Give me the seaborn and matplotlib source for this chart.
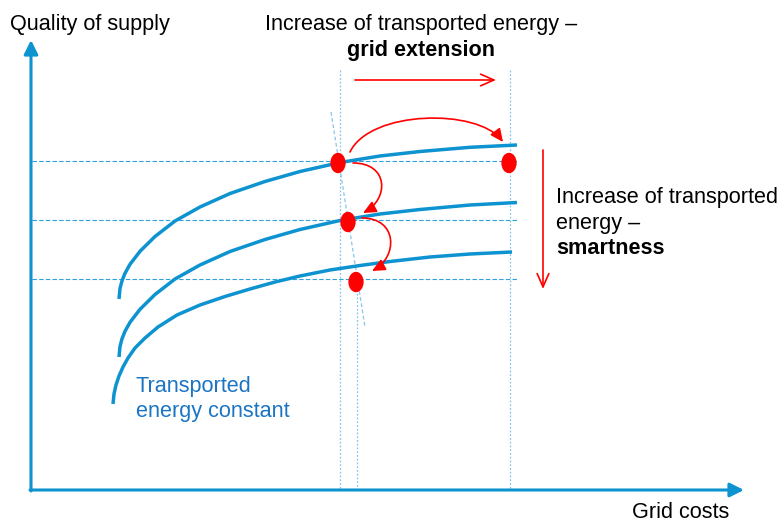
import numpy as np
import pandas as pd
import matplotlib
matplotlib.use("Agg")
import matplotlib.pyplot as plt
import seaborn as sns
from matplotlib.patches import FancyArrowPatch
from matplotlib.path import Path

sns.set_theme(style="white")
plt.rcParams['font.family'] = ['Liberation Sans', 'DejaVu Sans']
plt.rcParams['text.color'] = 'black'

# ---- data (pixel-like units, y grows downwards) ----
curve_top_x = [119, 120, 122, 125, 130, 140, 155, 175, 200, 230, 265, 300, 340, 380, 420, 470, 517]
curve_top_y = [299, 288.5, 280.8, 273.3, 264.3, 251.3, 236.5, 221, 207, 193.5, 181.5, 171.5, 162.5, 156, 151.5, 147.3, 145]
curve_mid_x = [119, 120, 122, 125, 130, 140, 155, 175, 200, 230, 265, 300, 340, 380, 420, 470, 517]
curve_mid_y = [357, 346.5, 338.8, 331.3, 322.3, 309.3, 294.5, 279, 265, 251.5, 239.5, 229.5, 220.5, 214, 209.5, 205, 202.5]
curve_low_x = [113, 114, 116, 119, 123, 128, 135, 145, 158, 177, 200, 225, 250, 275, 300, 330, 360, 390, 430, 470, 512]
curve_low_y = [404, 394, 385, 376, 367, 358, 348, 338, 327, 315, 305, 296.5, 289, 282, 276, 270, 265.5, 261.5, 257, 254, 252]

dot_x = [338, 348, 356, 509]
dot_y = [163, 222, 282, 163]

level_y = [161, 220, 279]          # dashed guide lines
guide_x = [340, 510]               # vertical dotted guides from the top
guide_low_x = 357                  # vertical dotted guide from lowest dot
slant_x = [331, 365]
slant_y = [112, 327]

# red arrows: start and end points
jump_right = [(350, 152), (503, 142)]
step_down_1 = [(353, 163), (363, 213)]
step_down_2 = [(362, 218), (372, 271)]
extension_arrow = [(355, 80), (496, 80)]
smart_arrow = [(543, 150), (543, 289)]

# ---- figure ----
fig = plt.figure(figsize=(7.82, 5.23), dpi=100)
ax = fig.add_axes([0, 0, 1, 1])

blue = "#0E93D1"
guide_blue = "#2AA2DE"
light_blue = "#88C5E9"
red = "#FF0000"

# guide lines
for y in level_y:
    ax.plot([32, 517], [y, y], color=guide_blue, lw=0.8, dashes=(4, 2), zorder=1)
for x in guide_x:
    ax.plot([x, x], [70, 490], color=light_blue, lw=0.9, dashes=(1.5, 1.5), zorder=1)
ax.plot([guide_low_x, guide_low_x], [282, 490], color=light_blue, lw=0.9, dashes=(1.5, 1.5), zorder=1)
ax.plot(slant_x, slant_y, color=light_blue, lw=0.9, dashes=(3, 2), zorder=1)

# curves
curves = pd.concat([
    pd.DataFrame({"x": curve_top_x, "y": curve_top_y, "c": "top"}),
    pd.DataFrame({"x": curve_mid_x, "y": curve_mid_y, "c": "mid"}),
    pd.DataFrame({"x": curve_low_x, "y": curve_low_y, "c": "low"}),
])
sns.lineplot(data=curves, x="x", y="y", units="c", estimator=None, sort=False,
             color=blue, lw=2.5, ax=ax, zorder=3, solid_capstyle="butt")

ax.set_xlim(0, 782)
ax.set_ylim(523, 0)
ax.axis("off")

# axes arrows
head = "-|>,head_length=0.7,head_width=0.35"
ax.annotate("", xy=(31, 40), xytext=(31, 491),
            arrowprops=dict(arrowstyle=head, color=blue, lw=2.2, shrinkA=0, shrinkB=0))
ax.annotate("", xy=(744, 490), xytext=(30, 490),
            arrowprops=dict(arrowstyle=head, color=blue, lw=2.2, shrinkA=0, shrinkB=0))

# red dots (vertical ellipses)
circ = Path.unit_circle()
ell = Path(circ.vertices * np.array([0.75, 1.0]), circ.codes)
sns.scatterplot(x=dot_x, y=dot_y, marker=ell, s=215, color=red, edgecolor="none", ax=ax, zorder=5)

# red arrows
def straight(p, style):
    ax.add_patch(FancyArrowPatch(p[0], p[1], arrowstyle=style, color=red, lw=1.2,
                                 mutation_scale=12, shrinkA=0, shrinkB=0, zorder=6))

def curved(p, off, style):
    (x0, y0), (x1, y1) = p
    verts = [(x0, y0), (x0 + off[0], y0 + off[1]), (x1 + off[2], y1 + off[3]), (x1, y1)]
    path = Path(verts, [Path.MOVETO, Path.CURVE4, Path.CURVE4, Path.CURVE4])
    ax.add_patch(FancyArrowPatch(path=path, arrowstyle=style, color=red, lw=1.2,
                                 mutation_scale=12, zorder=6))

straight(extension_arrow, "->,head_length=0.8,head_width=0.35")
straight(smart_arrow, "->,head_length=0.8,head_width=0.35")
tri = "-|>,head_length=0.65,head_width=0.3"
curved(jump_right, (20, -42, -25, -34), tri)
curved(step_down_1, (36, 0, 26, -14), tri)
curved(step_down_2, (36, 0, 26, -14), tri)

# text
fs = 15.6
ink = "black"
ax.text(10, 30, "Quality of supply", fontsize=fs, color=ink, va="baseline", ha="left")
ax.text(421, 30, "Increase of transported energy \u2013", fontsize=fs, color=ink, ha="center", va="baseline")
ax.text(421, 56, "grid extension", fontsize=fs, color=ink, ha="center", va="baseline", fontweight="bold")
ax.text(556, 203, "Increase of transported", fontsize=fs, color=ink, ha="left", va="baseline")
ax.text(556, 228.5, "energy \u2013", fontsize=fs, color=ink, ha="left", va="baseline")
ax.text(556, 254, "smartness", fontsize=fs, color=ink, ha="left", va="baseline", fontweight="bold")
ax.text(136, 392, "Transported", fontsize=fs, ha="left", va="baseline", color="#1C75C4")
ax.text(136, 417, "energy constant", fontsize=fs, ha="left", va="baseline", color="#1C75C4")
ax.text(632, 518, "Grid costs", fontsize=fs, color=ink, ha="left", va="baseline")

fig.savefig("out.png", dpi=100)
